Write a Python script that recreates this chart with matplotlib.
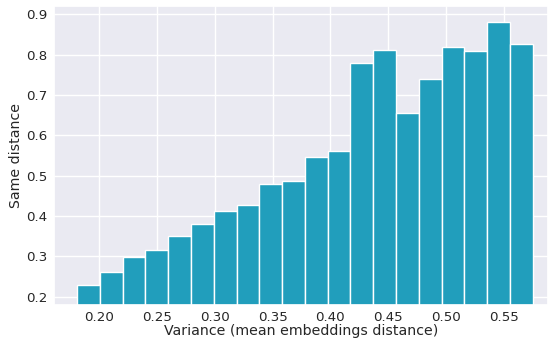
import matplotlib
matplotlib.use("Agg")
import matplotlib.pyplot as plt
import seaborn as sns
import numpy as np

sns.set_theme(style="darkgrid")
plt.rcParams['font.family'] = ['DejaVu Sans']

bin_start = 0.181
bin_width = 0.0197
values = [0.228, 0.260, 0.297, 0.315, 0.349, 0.381, 0.413, 0.427, 0.478, 0.487,
          0.547, 0.560, 0.780, 0.811, 0.656, 0.739, 0.819, 0.809, 0.881, 0.826]
xticks = [0.20, 0.25, 0.30, 0.35, 0.40, 0.45, 0.50, 0.55]
yticks = [0.2, 0.3, 0.4, 0.5, 0.6, 0.7, 0.8, 0.9]

edges = bin_start + bin_width * np.arange(len(values))

fig = plt.figure(figsize=(5.5, 3.4), dpi=100)
ax = fig.add_axes([0.098, 0.104, 0.898, 0.878])
ax.bar(edges, values, width=bin_width, align='edge', color='#219ebc',
       edgecolor='white', linewidth=1.0)
ax.set_xlim(0.161, 0.588)
ax.set_ylim(0.18, 0.92)
ax.set_xticks(xticks)
ax.set_xticklabels([f"{t:.2f}" for t in xticks])
ax.set_yticks(yticks)
ax.set_yticklabels([f"{t:.1f}" for t in yticks])
ax.tick_params(labelsize=9.6, pad=4.5, length=0)
ax.set_xlabel("Variance (mean embeddings distance)", fontsize=10.2, labelpad=0)
ax.set_ylabel("Same distance", fontsize=10.2, labelpad=2)
fig.savefig("out.png", dpi=100)
